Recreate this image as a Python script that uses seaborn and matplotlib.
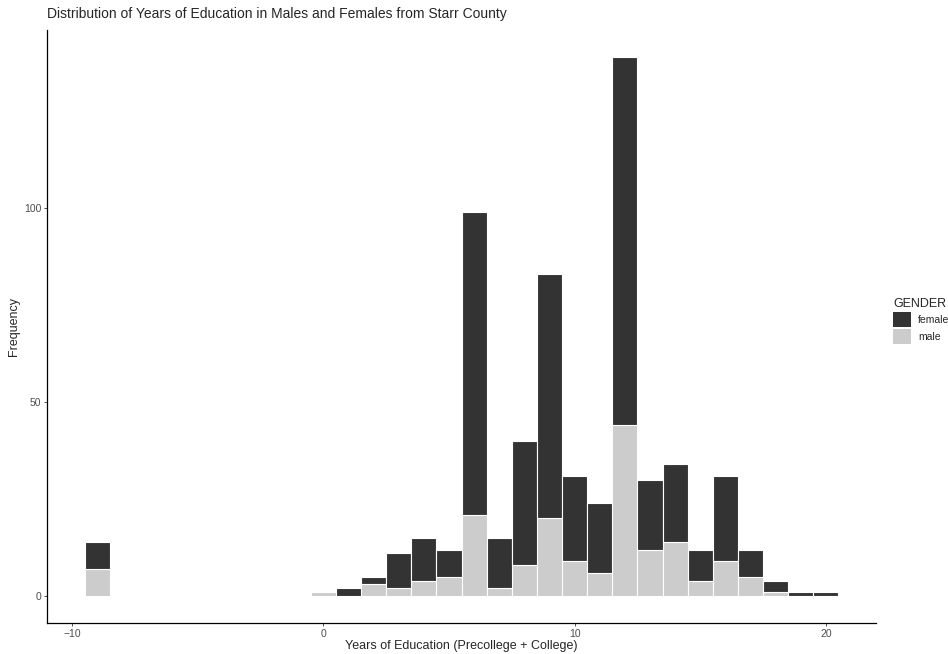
import matplotlib
matplotlib.use("Agg")
import matplotlib.pyplot as plt
import seaborn as sns
import pandas as pd

# Years of education (bin centres) and counts per gender
years = [-9, 0, 1, 2, 3, 4, 5, 6, 7, 8, 9, 10, 11, 12, 13, 14, 15, 16, 17, 18, 19, 20]
female_counts = [7, 0, 2, 2, 9, 11, 7, 78, 13, 32, 63, 22, 18, 95, 18, 20, 8, 22, 7, 3, 1, 1]
male_counts = [7, 1, 0, 3, 2, 4, 5, 21, 2, 8, 20, 9, 6, 44, 12, 14, 4, 9, 5, 1, 0, 0]
genders = ["female", "male"]
x_ticks = [-10, 0, 10, 20]
y_ticks = [0, 50, 100]

df = pd.DataFrame({
    "EDUC": years * 2,
    "GENDER": ["female"] * len(years) + ["male"] * len(years),
    "n": female_counts + male_counts,
})

sns.set_theme(style="ticks")
plt.rcParams["font.family"] = ["Liberation Sans", "DejaVu Sans"]

fig = plt.figure(figsize=(9.48, 6.54), dpi=100)
ax = fig.add_axes([0.0496, 0.0474, 0.8745, 0.9067])

sns.histplot(
    data=df, x="EDUC", weights="n", hue="GENDER", hue_order=genders,
    multiple="stack", discrete=True, palette={"female": "#333333", "male": "#CCCCCC"},
    edgecolor="white", linewidth=0.8, alpha=1, ax=ax,
)

total_max = max(f + m for f, m in zip(female_counts, male_counts))
pad_y = total_max * 0.05
ax.set_ylim(-pad_y, total_max + pad_y)
ax.set_xlim(-11, 22)
ax.set_xticks(x_ticks)
ax.set_yticks(y_ticks)
ax.tick_params(axis="both", labelsize=7.5, labelcolor="#4D4D4D", color="#333333",
               length=2.5, width=0.6, pad=1.5)
for side in ("top", "right"):
    ax.spines[side].set_visible(False)
for side in ("left", "bottom"):
    ax.spines[side].set_linewidth(0.9)
    ax.spines[side].set_color("black")

ax.set_xlabel("Years of Education (Precollege + College)", fontsize=9, labelpad=1)
ax.set_ylabel("Frequency", fontsize=9, labelpad=3)
fig.text(0.0496, 0.968, "Distribution of Years of Education in Males and Females from Starr County",
         fontsize=10, ha="left", va="bottom")

sns.move_legend(ax, "upper left", bbox_to_anchor=(0.942, 0.545),
                bbox_transform=fig.transFigure, frameon=False,
                title="GENDER", fontsize=7.5, title_fontsize=9, handlelength=1.75,
                handleheight=1.75, handletextpad=0.65, labelspacing=0.25,
                borderpad=0, borderaxespad=0)
leg = ax.get_legend()
leg._legend_box.align = "left"
for h in leg.legend_handles:
    h.set_edgecolor("none")

fig.savefig("out.png", dpi=100, facecolor="white")
